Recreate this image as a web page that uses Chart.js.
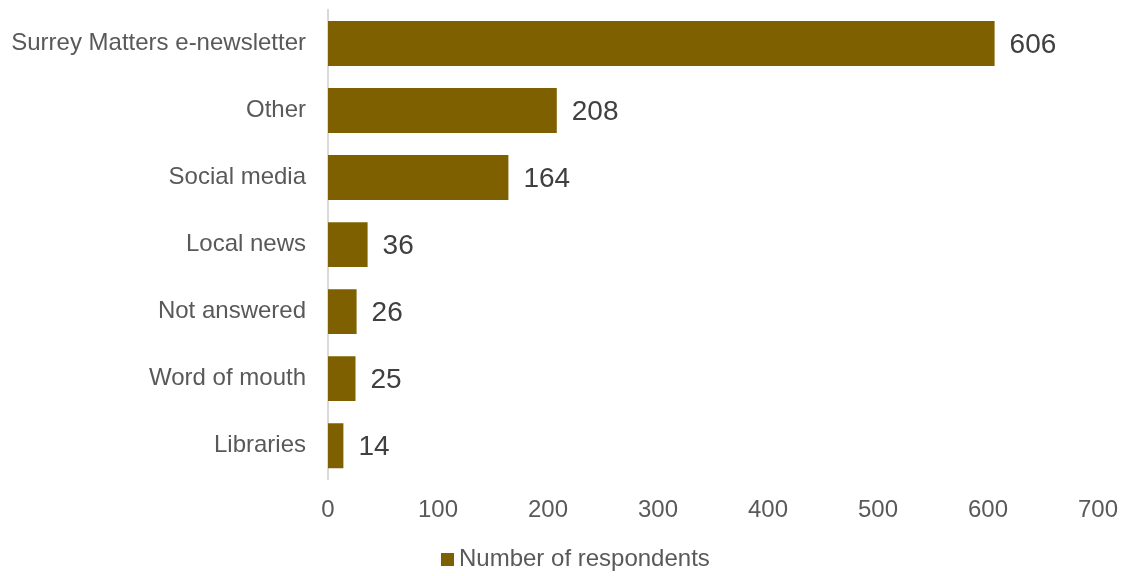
<!DOCTYPE html>
<html>
<head>
<meta charset="utf-8">
<script src="https://cdn.jsdelivr.net/npm/chart.js@4"></script>
<style>
html,body{margin:0;padding:0;background:#fff;}
#wrap{width:1130px;height:576px;}
</style>
</head>
<body>
<div id="wrap"><canvas id="c" width="1130" height="576"></canvas></div>
<script>
const categories = ["Surrey Matters e-newsletter","Other","Social media","Local news","Not answered","Word of mouth","Libraries"];
const respondents = [606,208,164,36,26,25,14];
const seriesName = "Number of respondents";
const xTicks = [0,100,200,300,400,500,600,700];

const FONT = "'Liberation Sans', Arial, sans-serif";
const BAR_COLOR = '#7F6000';

const valueLabels = {
  id: 'valueLabels',
  afterDatasetsDraw(chart) {
    const ctx = chart.ctx;
    const meta = chart.getDatasetMeta(0);
    ctx.save();
    ctx.font = "28px " + FONT;
    ctx.fillStyle = "#404040";
    ctx.textAlign = "left";
    ctx.textBaseline = "middle";
    meta.data.forEach((bar, i) => {
      ctx.fillText(String(chart.data.datasets[0].data[i]), bar.x + 15, bar.y + 2);
    });
    ctx.restore();
  }
};

const customLegend = {
  id: 'customLegend',
  afterDraw(chart) {
    const ctx = chart.ctx;
    const ds = chart.data.datasets[0];
    ctx.save();
    ctx.font = "24px " + FONT;
    const box = 13, gap = 5;
    const x0 = 441;
    const cy = 559;
    ctx.fillStyle = ds.backgroundColor;
    ctx.fillRect(x0, cy - 6, box, box);
    ctx.fillStyle = '#595959';
    ctx.textAlign = 'left';
    ctx.textBaseline = 'middle';
    ctx.fillText(ds.label, x0 + box + gap, cy);
    ctx.restore();
  }
};

new Chart(document.getElementById('c'), {
  type: 'bar',
  data: {
    labels: categories,
    datasets: [{
      label: seriesName,
      data: respondents,
      backgroundColor: BAR_COLOR,
      categoryPercentage: 1,
      barPercentage: 0.67
    }]
  },
  options: {
    indexAxis: 'y',
    responsive: false,
    animation: false,
    layout: { padding: { top: 10, right: 32, left: 0, bottom: 34 } },
    plugins: {
      legend: { display: false },
      tooltip: { enabled: false }
    },
    scales: {
      x: {
        min: 0, max: 700,
        afterBuildTicks(scale) { scale.ticks = xTicks.map(v => ({ value: v })); },
        afterFit(scale) { scale.paddingLeft = 0; scale.paddingRight = 0; },
        ticks: { font: { size: 24, family: FONT }, color: '#595959', padding: 17 },
        grid: { display: false, drawTicks: false },
        border: { display: false }
      },
      y: {
        afterFit(scale) { scale.width = 328; scale.paddingTop = 0; scale.paddingBottom = 0; },
        ticks: { font: { size: 24, family: FONT }, color: '#595959', padding: 22 },
        grid: { display: false, drawTicks: false },
        border: { display: true, color: '#D9D9D9', width: 2 }
      }
    }
  },
  plugins: [valueLabels, customLegend]
});
</script>
</body>
</html>
